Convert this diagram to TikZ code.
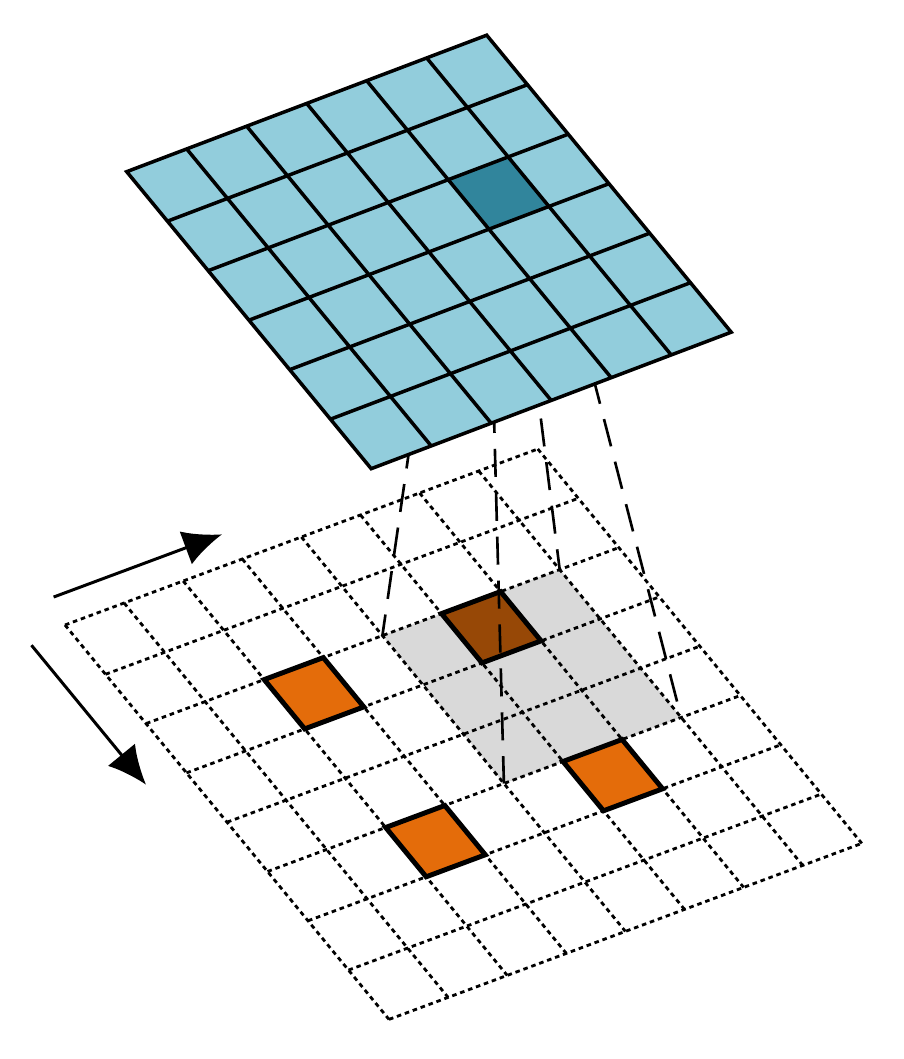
\documentclass[tikz,border=0pt]{standalone}
\usepackage{tikz}
\usetikzlibrary{arrows.meta}
\definecolor{featblue}{HTML}{92CDDC}
\definecolor{featdark}{HTML}{31859C}
\definecolor{kernorange}{HTML}{E46C0A}
\definecolor{kernbrown}{HTML}{974806}
\definecolor{fieldgray}{HTML}{D9D9D9}
\def\gridcell[#1](#2,#3){\draw[#1] (#2,#3) -- ++(1,0) -- ++(0,1) -- ++(-1,0) -- cycle;}

\begin{document}
\begin{tikzpicture}[
	dotline/.style={line width=0.8pt, dash pattern=on 1.3pt off 1.1pt},
	projline/.style={line width=0.75pt, dash pattern=on 8pt off 4.5pt},
	kerncell/.style={line width=1.4pt, line join=miter, fill=kernorange},
	moveline/.style={line width=0.85pt, -{Latex[length=11pt,width=10pt]}}]
	%%%%% START %%%%%
	\def\n{8}
	\def\m{6}
	\useasboundingbox (0,0) rectangle (9.03,10.59);
	
	% input (bottom)
	\begin{scope}[shift={(0.65,4.34)}, x={(0.591cm,0.220cm)}, y={(0.405cm,-0.493cm)}]
		\fill[fieldgray] (4,2) -- (7,2) -- (7,5) -- (4,5) -- cycle;
		\foreach \i in {0,...,\n} {
			\draw[dotline] (\i,0) -- (\i,\n);
			\draw[dotline] (0,\i) -- (\n,\i);
		}
		\gridcell[kerncell](2,2)
		\gridcell[kerncell](2,5)
		\gridcell[kerncell](5,5)
		\gridcell[kerncell, fill=kernbrown](5,2)
		\coordinate (rf-w) at (4,2);
		\coordinate (rf-n) at (7,2);
		\coordinate (rf-s) at (4,5);
		\coordinate (rf-e) at (7,5);
		\coordinate (row-a) at (0.15,-0.5);
		\coordinate (row-b) at (3,-0.5);
		\coordinate (col-a) at (-0.65,0.12);
		\coordinate (col-b) at (-0.65,2.95);
	\end{scope}
	
	\draw[moveline] (row-a) -- (row-b);
	\draw[moveline] (col-a) -- (col-b);
	
	% output (top)
	\begin{scope}[shift={(1.267,8.873)}, x={(0.600cm,0.2275cm)}, y={(0.4075cm,-0.495cm)}]
		\coordinate (px-w) at (4,2);
		\coordinate (px-n) at (5,2);
		\coordinate (px-s) at (4,3);
		\coordinate (px-e) at (5,3);
		\draw[projline] (px-w) -- (rf-w);
		\draw[projline] (px-n) -- (rf-n);
		\draw[projline] (px-s) -- (rf-s);
		\draw[projline] (px-e) -- (rf-e);
		
		\fill[featblue] (0,0) -- (\m,0) -- (\m,\m) -- (0,\m) -- cycle;
		\fill[featdark] (4,2) -- (5,2) -- (5,3) -- (4,3) -- cycle;
		\foreach \i in {1,...,5} {
			\draw[line width=1pt] (\i,0) -- (\i,\m);
			\draw[line width=1pt] (0,\i) -- (\m,\i);
		}
		\draw[line width=1pt] (0,0) -- (\m,0) -- (\m,\m) -- (0,\m) -- cycle;
	\end{scope}
	%%%%% END %%%%%
\end{tikzpicture}
\end{document}
